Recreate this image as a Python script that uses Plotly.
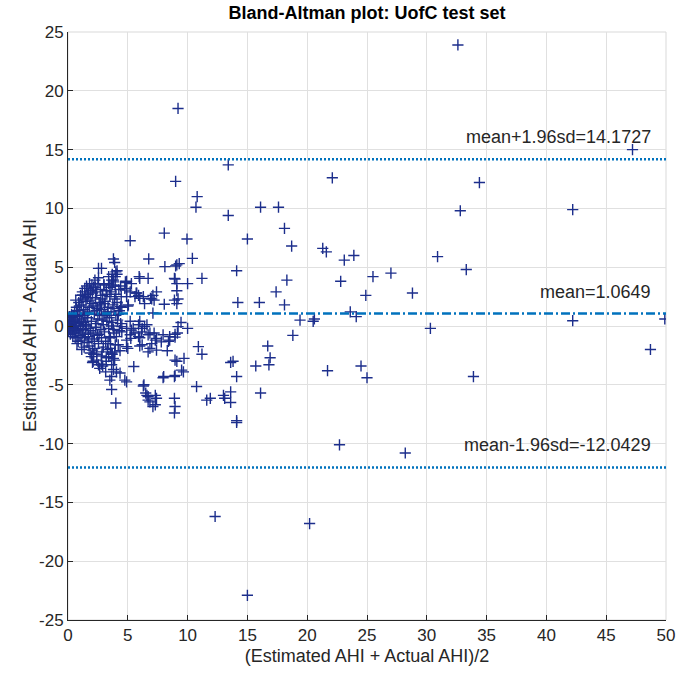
import plotly.graph_objects as go

# ---- data: (mean of the two AHI values, difference estimated - actual) ----
cluster_points = [
    (0.05, 0.1), (0.1, -0.2), (0.15, 0.4), (0.2, 0.0), (0.25, -0.4), (0.3, 0.7), (0.35, 0.2), (0.4, -0.1),
    (0.45, 0.5), (0.5, -0.6), (0.1, 0.8), (0.2, -0.7), (0.3, 1.0), (0.4, -0.9), (0.05, -0.4), (0.15, 0.25),
    (0.25, 0.6), (0.35, -0.3), (0.45, 0.9), (0.5, 0.3),
    (0.55, 1.2), (0.6, -1.0), (0.65, 0.0), (0.7, 1.6), (0.75, -0.5), (0.8, 0.8), (0.85, -1.3), (0.9, 2.0),
    (0.95, 0.4), (1.0, -0.8), (0.6, 0.5), (0.7, -0.2), (0.8, 1.3), (0.9, -0.4), (1.0, 1.0), (0.65, 2.2),
    (0.75, -1.5), (0.85, 0.2), (0.95, 1.7), (0.55, -0.3),
    (1.05, 2.6), (1.1, -1.2), (1.15, 0.6), (1.2, 2.9), (1.25, -0.3), (1.3, 1.4), (1.35, -1.8), (1.4, 3.2),
    (1.45, 0.1), (1.5, 2.1), (1.1, 1.8), (1.2, -0.6), (1.3, 0.3), (1.4, -1.0), (1.5, 1.1), (1.15, -2.0),
    (1.25, 2.3), (1.35, 0.9), (1.45, -0.7), (1.05, 0.0),
    (1.55, 3.4), (1.6, -1.4), (1.65, 0.7), (1.7, 2.7), (1.75, -0.2), (1.8, 1.6), (1.85, -2.3), (1.9, 3.0),
    (1.95, 0.4), (2.0, -1.1), (1.6, 2.4), (1.7, -0.9), (1.8, 3.6), (1.9, -0.4), (2.0, 1.9), (1.65, 1.2),
    (1.75, -1.7), (1.85, 2.2), (1.95, -2.6), (1.55, 0.0),
    (2.05, 2.8), (2.1, -0.6), (2.15, 3.3), (2.2, 1.0), (2.25, -1.9), (2.3, 2.4), (2.35, 0.2), (2.4, -2.9),
    (2.45, 1.5), (2.5, 3.6), (2.1, 1.7), (2.2, -1.3), (2.3, -0.1), (2.4, 2.9), (2.5, 0.6), (2.15, -2.4),
    (2.25, 3.9), (2.35, 1.3), (2.45, -0.8), (2.05, -3.1),
    (2.55, -1.5), (2.6, 2.0), (2.65, 0.9), (2.7, 3.1), (2.75, -0.3), (2.8, 1.4), (2.85, -2.2), (2.9, 2.6),
    (2.95, 0.1), (3.0, 3.5), (2.6, -0.7), (2.7, 1.8), (2.8, -1.0), (2.9, -3.4), (3.0, 1.0), (2.65, -3.6),
    (2.75, 2.3), (2.85, 0.5), (2.95, -1.8), (2.55, 4.1),
    (3.05, -0.5), (3.1, 2.1), (3.15, -1.3), (3.2, 3.0), (3.25, 0.4), (3.3, -2.0), (3.35, 1.6), (3.4, 4.2),
    (3.45, -0.9), (3.5, 2.5), (3.1, 0.9), (3.2, -2.7), (3.3, 1.2), (3.4, -0.2), (3.5, 3.3), (3.15, -3.9),
    (3.25, 2.7), (3.35, -1.5), (3.45, 0.7), (3.05, 1.9),
    (3.55, -1.0), (3.6, 2.9), (3.65, 0.3), (3.7, -2.4), (3.75, 1.8), (3.8, 3.9), (3.85, -0.6), (3.9, 2.3),
    (3.95, -1.6), (4.0, 0.9), (3.6, 1.2), (3.7, 4.4), (3.8, -0.3), (3.9, -2.9), (4.0, 2.7), (3.65, -4.3),
    (3.75, 0.0), (3.85, 1.5), (3.95, 3.4), (3.55, -1.9),
    (4.05, -0.9), (4.1, 2.0), (4.15, 0.5), (4.2, -1.6), (4.25, 3.1), (4.3, 1.3), (4.35, -2.1), (4.4, 0.2),
    (4.45, 2.5), (4.5, -0.5), (4.1, 4.7), (4.2, 1.0), (4.3, -0.4), (4.4, 3.4), (4.5, 1.6),
]

near_points = [
    (8.05, 7.9), (5.2, 7.25), (9.95, 7.4), (10.4, 5.75), (6.75, 5.7), (3.8, 5.7), (3.9, 5.4),
    (2.55, 4.9), (2.8, 4.9), (4.0, 4.6), (4.1, 4.4), (3.95, 4.2), (8.1, 5.05), (9.1, 5.2), (9.3, 5.3),
    (11.2, 4.05), (10.0, 3.6), (8.9, 4.05), (9.1, 3.6), (9.1, 3.0), (6.7, 4.05), (6.0, 4.05),
    (5.3, 3.6), (4.85, 3.7), (7.4, 2.9), (7.1, 2.6), (6.9, 2.35), (7.2, 2.2), (5.7, 2.8), (5.6, 2.5),
    (8.9, 2.2), (5.0, 1.7), (4.4, 1.65), (6.0, 0.4), (6.6, 0.1), (6.2, -0.2), (4.5, -0.05), (4.9, -0.2),
    (5.3, -0.35), (5.6, -0.6), (5.9, -0.9), (5.25, -1.05), (6.7, -0.75), (7.4, -1.05), (7.2, -0.6),
    (7.95, -0.75), (8.5, -0.9), (9.15, -0.6), (8.95, -0.95), (7.8, -1.35), (8.4, -1.3), (7.4, -2.05),
    (8.3, -2.1), (4.9, -1.75), (5.0, -1.9), (6.2, -1.6), (10.9, -1.75), (11.2, -2.4), (9.7, -2.75),
    (9.1, -3.0), (3.65, -2.3), (3.9, -2.2), (3.4, -2.6), (3.8, -2.75), (2.8, -2.55), (2.05, -2.05),
    (2.4, -2.4), (2.1, -3.0), (2.55, -3.3), (2.8, -3.25), (3.2, -3.0), (3.65, -3.3), (3.8, -3.7),
    (4.05, -3.9), (4.35, -4.0), (4.75, -4.6), (4.9, -4.75), (3.5, -4.6), (5.5, -3.45), (3.65, -5.4),
    (4.0, -6.55), (6.35, -5.0), (6.5, -5.7), (6.7, -6.0), (7.3, -5.9), (7.4, -6.15), (6.85, -6.45),
    (7.3, -6.7), (8.9, -6.15), (8.95, -6.85), (8.9, -7.4), (8.9, -4.3), (9.65, -3.9), (8.0, -4.3),
    (10.75, -5.15), (11.9, -6.15), (13.0, -5.9), (13.1, -6.15), (13.6, -5.6), (13.6, -6.5),
    (13.8, -3.0), (14.1, -4.3), (14.1, -8.05),
    (4.9, 3.8), (4.75, 3.2), (4.9, 3.05), (5.2, 2.9), (6.0, 2.35), (3.4, 3.6), (3.65, 3.9),
    (3.8, 3.75), (3.7, 3.5), (4.8, 3.75), (3.0, 3.5), (2.0, 3.5), (2.3, 3.3), (1.85, 3.05), (1.6, 3.2),
    (1.2, 2.65), (1.45, 2.5),
    (5.95, 4.2), (9.0, 5.1), (8.95, 4.0), (5.75, 2.8), (5.9, 2.6), (6.4, 1.9), (6.3, 2.5),
    (7.0, 2.3), (8.05, 1.85), (9.2, 2.3), (9.1, 1.9), (4.9, 2.5), (5.05, 1.8), (7.1, 1.1),
    (5.9, 0.1), (6.4, -0.05), (9.45, 0.3), (5.2, 0.4),
    (5.45, -0.2), (6.15, -0.5), (6.85, -0.6), (5.2, -0.75), (6.0, -1.0), (4.9, -1.2), (7.3, -1.2),
    (7.0, -1.5), (6.85, -1.9), (6.7, -2.2), (8.5, -1.2), (8.95, -0.7), (9.2, -0.05), (6.0, -1.7),
    (8.95, -2.9), (9.5, -3.75), (8.95, -4.2), (7.95, -4.4), (6.3, -5.1), (6.6, -5.9), (6.7, -6.3),
    (7.1, -6.85),
]

far_points = [
    (9.2, 18.5), (32.6, 23.9), (47.2, 15.0), (34.4, 12.2), (32.8, 9.8), (42.2, 9.9),
    (22.1, 12.6), (16.1, 10.1), (17.6, 10.1), (15.0, 7.4), (18.1, 8.3), (18.7, 6.8),
    (21.3, 6.6), (21.6, 6.3), (23.1, 5.6), (23.9, 6.0), (30.9, 5.9), (18.3, 3.9), (22.8, 3.8),
    (25.5, 4.2), (27.0, 4.5), (17.4, 2.9), (16.0, 2.0), (18.1, 1.8), (24.9, 2.6), (28.8, 2.8),
    (14.2, 2.0), (14.1, 4.7), (19.4, 0.5), (20.5, 0.4), (20.6, 0.6), (23.6, 1.2), (24.1, 0.8),
    (30.3, -0.2), (18.8, -0.8), (16.7, -1.7), (16.9, -2.7), (15.7, -3.4), (16.8, -3.3),
    (21.7, -3.8), (24.5, -3.4), (25.0, -4.4), (16.1, -5.7), (13.6, -3.1), (14.1, -8.2),
    (22.7, -10.1), (28.2, -10.8), (20.2, -16.8), (33.3, 4.8), (42.2, 0.45), (49.9, 0.6),
    (48.7, -2.0), (33.9, -4.3), (13.4, 13.7), (13.4, 9.4), (10.8, 11.0), (10.7, 10.1),
    (9.0, 12.3), (12.3, -16.2), (15.0, -22.9), (11.6, -6.3), (10.0, -0.2),
]

mean_diff = 1.0649
upper_loa = 14.1727
lower_loa = -12.0429

x_ticks = [0, 5, 10, 15, 20, 25, 30, 35, 40, 45, 50]
x_tick_text = ["0", "5", "10", "15", "20", "25", "30", "35", "40", "45", "50"]
y_ticks = [-25, -20, -15, -10, -5, 0, 5, 10, 15, 20, 25]
y_tick_text = ["-25", "-20", "-15", "-10", "-5", "0", "5", "10", "15", "20", "25"]

all_points = cluster_points + near_points + far_points
xs = [p[0] for p in all_points]
ys = [p[1] for p in all_points]

LINE_BLUE = "#0072BD"
MARK_BLUE = "#1c2e8c"
FONT = "Liberation Sans, Arial, sans-serif"
TXT = "#262626"

fig = go.Figure()

fig.add_trace(go.Scatter(
    x=xs, y=ys, mode="markers",
    marker=dict(symbol="cross-thin", size=8, line=dict(color=MARK_BLUE, width=1.4), color=MARK_BLUE),
    showlegend=False, hoverinfo="x+y",
))

for val, dash in [(upper_loa, "2px,2px"), (mean_diff, "9px,3px,2px,3px"), (lower_loa, "2px,2px")]:
    fig.add_trace(go.Scatter(
        x=[0, 50], y=[val, val], mode="lines",
        line=dict(color=LINE_BLUE, width=2.5, dash=dash),
        showlegend=False, hoverinfo="skip",
    ))

labels = [
    (16.1, "mean+1.96sd=%.4f" % upper_loa),
    (2.9, "mean=%.4f" % mean_diff),
    (-10.1, "mean-1.96sd=%.4f" % lower_loa),
]
for yv, txt in labels:
    fig.add_annotation(x=48.9, y=yv, xref="x", yref="y", text=txt, showarrow=False,
                       xanchor="right", yanchor="middle",
                       font=dict(family=FONT, size=18, color=TXT))

# y-axis title placed as rotated text
fig.add_annotation(x=-38 / 598, y=0.5, xref="paper", yref="paper", text="Estimated AHI - Actual AHI",
                   textangle=-90, showarrow=False, xanchor="center", yanchor="middle",
                   font=dict(family=FONT, size=18, color=TXT))

# light grey box on top/right
fig.add_shape(type="rect", xref="paper", yref="paper", x0=0, x1=1, y0=0, y1=1,
              line=dict(color="#d9d9d9", width=1), layer="below")

axis_common = dict(
    showgrid=True, gridcolor="#e0e0e0", gridwidth=1,
    zeroline=False, showline=True, linecolor=TXT, linewidth=1,
    ticks="inside", ticklen=5, tickcolor=TXT,
    tickfont=dict(family=FONT, size=17, color=TXT),
)

fig.update_layout(
    width=690, height=673,
    margin=dict(l=68, r=24, t=32, b=53),
    plot_bgcolor="white", paper_bgcolor="white",
    title=dict(text="<b>Bland-Altman plot: UofC test set</b>", x=0.532, xanchor="center",
               y=1 - 13 / 673, yanchor="middle", yref="container",
               font=dict(family=FONT, size=18, color="black")),
    xaxis=dict(range=[0, 50], tickvals=x_ticks, ticktext=x_tick_text, **axis_common,
               title=dict(text="(Estimated AHI + Actual AHI)/2", standoff=4,
                          font=dict(family=FONT, size=18, color=TXT))),
    yaxis=dict(range=[-25, 25], tickvals=y_ticks, ticktext=y_tick_text, **axis_common),
)

fig.write_html("out.html")
